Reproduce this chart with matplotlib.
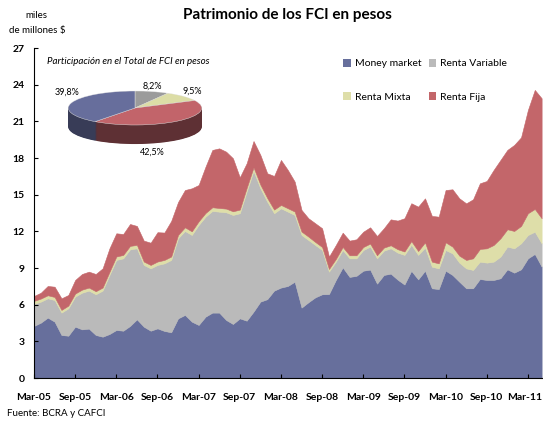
import numpy as np
import pandas as pd
import matplotlib
matplotlib.use('Agg')
import matplotlib.pyplot as plt
import matplotlib.transforms as mtransforms
from matplotlib.patches import Patch

plt.rcParams['font.family'] = ['Lato', 'DejaVu Sans']

# datos mensuales, mar-05 a may-11 (miles de millones $)
meses = pd.date_range('2005-03-01', periods=75, freq='MS')
money_market = [4.26, 4.53, 4.94, 4.61, 3.52, 3.46, 4.20, 3.98, 4.04, 3.52,
                3.38, 3.60, 3.93, 3.87, 4.26, 4.80, 4.20, 3.87, 4.06, 3.85,
                3.74, 4.88, 5.16, 4.61, 4.34, 5.02, 5.35, 5.35, 4.75, 4.42,
                4.88, 4.69, 5.43, 6.25, 6.45, 7.15, 7.40, 7.53, 7.88, 5.76,
                6.20, 6.60, 6.85, 6.87, 8.02, 9.05, 8.27, 8.36, 8.78, 8.87,
                7.72, 8.43, 8.54, 8.05, 7.65, 8.77, 8.07, 8.78, 7.34, 7.28,
                8.78, 8.43, 7.88, 7.34, 7.34, 8.10, 8.02, 8.02, 8.16, 8.89,
                8.62, 8.89, 9.79, 10.15, 9.11]
renta_variable = [1.80, 1.72, 1.58, 1.77, 1.83, 2.24, 2.46, 3.00, 3.11, 3.33,
                  3.77, 4.83, 5.73, 5.92, 6.27, 5.81, 5.05, 5.10, 5.19, 5.53,
                  5.92, 6.55, 6.87, 7.09, 8.18, 8.18, 8.32, 8.26, 8.81, 8.92,
                  8.60, 10.56, 11.51, 9.27, 7.98, 6.33, 6.48, 6.08, 5.46, 5.94,
                  5.09, 4.28, 3.62, 1.83, 1.50, 1.42, 1.52, 1.43, 1.69, 1.88,
                  2.07, 1.99, 2.07, 2.21, 2.42, 2.13, 2.00, 1.89, 1.77, 1.69,
                  1.69, 1.77, 1.56, 1.63, 1.50, 1.42, 1.42, 1.50, 1.77, 1.86,
                  1.99, 2.13, 1.91, 1.82, 1.91]
renta_mixta = [0.25, 0.25, 0.25, 0.25, 0.22, 0.22, 0.25, 0.25, 0.25, 0.25,
               0.25, 0.25, 0.28, 0.28, 0.28, 0.28, 0.28, 0.28, 0.28, 0.28,
               0.28, 0.28, 0.30, 0.30, 0.30, 0.30, 0.30, 0.30, 0.30, 0.30,
               0.30, 0.30, 0.30, 0.30, 0.30, 0.30, 0.28, 0.28, 0.28, 0.28,
               0.28, 0.25, 0.25, 0.22, 0.22, 0.25, 0.25, 0.25, 0.25, 0.25,
               0.25, 0.25, 0.25, 0.28, 0.28, 0.30, 0.32, 0.43, 0.41, 0.41,
               0.63, 0.55, 0.57, 0.69, 0.95, 1.04, 1.17, 1.36, 1.50, 1.42,
               1.42, 1.42, 1.78, 1.86, 2.05]
renta_fija = [0.40, 0.48, 0.76, 0.84, 0.95, 0.87, 1.11, 1.28, 1.30, 1.41,
              1.57, 1.93, 1.90, 1.71, 1.79, 1.55, 1.71, 1.82, 2.40, 2.24,
              2.91, 2.69, 3.05, 3.52, 2.97, 3.79, 4.69, 4.88, 4.66, 4.34,
              2.64, 2.02, 2.15, 2.43, 2.02, 2.75, 3.68, 3.13, 2.45, 1.77,
              1.50, 1.53, 1.53, 1.01, 1.14, 1.17, 1.20, 1.31, 1.25, 1.33,
              1.58, 1.58, 2.12, 2.34, 2.72, 3.10, 3.63, 3.60, 3.74, 3.82,
              4.28, 4.69, 4.69, 4.63, 4.83, 5.37, 5.51, 6.14, 6.41, 6.49,
              7.04, 7.25, 8.45, 9.74, 9.82]

series = ['Money market', 'Renta Variable', 'Renta Mixta', 'Renta Fija']
colores = ['#676f9c', '#bababa', '#dedea9', '#c3666a']

# torta: participacion en el total
pie_vals = [8.2, 9.5, 42.5, 39.8]
pie_labels = ['8,2%', '9,5%', '42,5%', '39,8%']
pie_top = ['#9b9b9b', '#dcdda6', '#c2646a', '#676e9c']
pie_side = ['#5a5a5a', '#8a8a66', '#5e3034', '#383c57']

x = np.arange(len(meses))
ticks = x[::6]
tick_labels = [d.strftime('%b-%y') for d in meses[::6]]

fig = plt.figure(figsize=(5.43, 4.22), dpi=100)
W, H = 543, 422
ax = fig.add_axes([34 / W, 44 / H, (W - 34) / W, 330 / H])

ax.stackplot(x, money_market, renta_variable, renta_mixta, renta_fija,
             colors=colores, linewidth=0.4, edgecolor='face')
ax.set_xlim(0, 74.2)
ax.set_ylim(0, 27)
ax.set_yticks(np.arange(0, 28, 3))
ax.set_xticks(ticks)
ax.set_xticklabels(tick_labels)
ax.tick_params(axis='both', direction='in', length=3, width=0.8, labelsize=7.5)
ax.tick_params(axis='x', pad=10.5)
ax.tick_params(axis='y', pad=7)
for lab in ax.get_xticklabels() + ax.get_yticklabels():
    lab.set_fontweight('bold')
# la ultima etiqueta queda pegada al borde
ultima = ax.get_xticklabels()[-1]
ultima.set_transform(ultima.get_transform() +
                     mtransforms.ScaledTranslation(-3 / 100, 0, fig.dpi_scale_trans))
ax.spines['top'].set_visible(False)
ax.spines['right'].set_visible(False)
ax.spines['left'].set_linewidth(0.8)
ax.spines['bottom'].set_linewidth(0.8)

# titulo y textos
fig.text(287 / W, 1 - 15 / H, 'Patrimonio de los FCI en pesos', ha='center',
         va='center', fontsize=11, fontweight='bold')
fig.text(36 / W, 1 - 15 / H, 'miles', ha='center', va='center', fontsize=7)
fig.text(37 / W, 1 - 31 / H, 'de millones $', ha='center', va='center', fontsize=7)
fig.text(7 / W, 1 - 413 / H, 'Fuente: BCRA y CAFCI', ha='left', va='center', fontsize=7)

# leyenda
handles = [Patch(facecolor=c) for c in colores]
orden = [0, 2, 1, 3]
fig.legend([handles[i] for i in orden], [series[i] for i in orden], ncol=2,
           loc='upper left', bbox_to_anchor=(338 / W, 1 - 54 / H), frameon=False,
           fontsize=7.5, handlelength=0.7, handleheight=0.7, handletextpad=0.4,
           labelspacing=2.3, columnspacing=0.7, borderpad=0)

# torta 3D
fig.text(128 / W, 1 - 62 / H, 'Participación en el Total de FCI en pesos',
         ha='center', va='center', fontsize=7, style='italic')
pax = fig.add_axes([65 / W, (H - 145.4) / H, 140 / W, 55.25 / H])
depth = 1.12
n_layers = 40
for k in range(n_layers, 0, -1):
    pax.pie(pie_vals, colors=pie_side, startangle=90, counterclock=False,
            center=(0, -depth * k / n_layers), wedgeprops=dict(linewidth=0))
pax.pie(pie_vals, colors=pie_top, startangle=90, counterclock=False,
        wedgeprops=dict(linewidth=0.3, edgecolor='#e8e8e8'))
pax.set_aspect('auto')
pax.set_xlim(-1.05, 1.05)
pax.set_ylim(-2.2, 1.05)
pax.axis('off')

pos_labels = [(152, 86), (192, 91), (152, 152), (67, 92)]
for lab, (px, py) in zip(pie_labels, pos_labels):
    fig.text(px / W, 1 - py / H, lab, ha='center', va='center', fontsize=6.5)

fig.savefig('out.png', dpi=100)
